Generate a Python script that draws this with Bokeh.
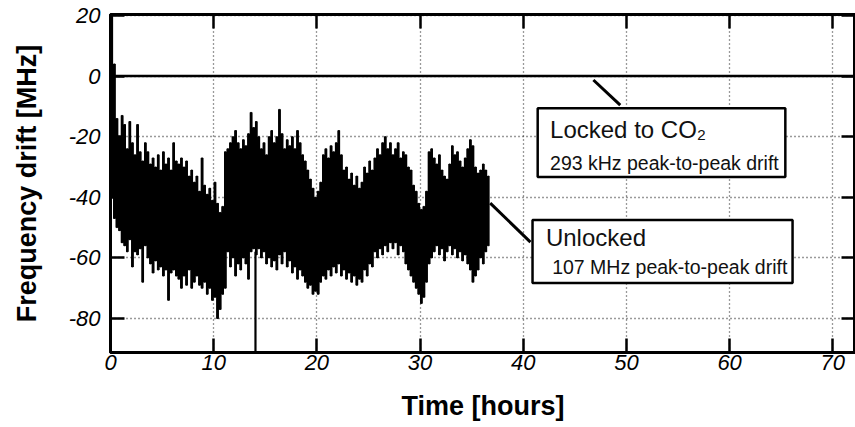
from bokeh.plotting import figure
from bokeh.models import (Range1d, FixedTicker, LinearAxis, BoxAnnotation, Label,
                          Arrow, ColumnDataSource)
from bokeh.embed import file_html
from bokeh.resources import INLINE

# ---------------- data ----------------
BIN_HOURS = 0.25  # sampling of the envelope readings

# upper envelope of the unlocked trace [MHz], one value per 0.25 h from t = 0
unlocked_top = [
    20, 4, -14, -20, -13, -16, -24, -15,
    -22, -26, -16, -25, -28, -22, -25, -29,
    -27, -30, -26, -31, -25, -29, -27, -31,
    -22, -28, -29, -27, -30, -28, -33, -31,
    -35, -33, -38, -27, -36, -39, -37, -41,
    -35, -42, -45, -43, -25, -24, -22, -20,
    -18, -22, -24, -21, -23, -19, -12, -17,
    -15, -20, -24, -22, -26, -20, -18, -22,
    -20, -11, -19, -24, -21, -23, -20, -24,
    -18, -22, -26, -28, -31, -34, -37, -40,
    -38, -35, -26, -24, -27, -23, -25, -22,
    -18, -26, -31, -30, -34, -32, -36, -33,
    -37, -35, -30, -32, -28, -31, -27, -24,
    -26, -22, -20, -24, -22, -26, -24, -22,
    -27, -25, -26, -30, -31, -36, -38, -42,
    -44, -43, -38, -25, -24, -27, -29, -26,
    -31, -33, -34, -29, -23, -26, -25, -28,
    -30, -27, -24, -21, -23, -30, -32, -31,
    -29, -31, -33,
]

# lower envelope of the unlocked trace [MHz]
unlocked_bottom = [
    -40, -47, -50, -51, -55, -56, -58, -54,
    -63, -58, -59, -57, -68, -56, -60, -62,
    -65, -61, -64, -63, -66, -64, -74, -65,
    -64, -66, -67, -70, -66, -69, -64, -70,
    -68, -66, -69, -70, -68, -72, -70, -74,
    -73, -80, -77, -72, -70, -58, -63, -60,
    -66, -62, -64, -60, -62, -67, -58, -57,
    -59, -57, -60, -58, -62, -60, -63, -61,
    -64, -59, -62, -58, -63, -61, -65, -63,
    -67, -64, -66, -68, -70, -69, -72, -71,
    -72, -68, -66, -67, -64, -66, -63, -65,
    -62, -66, -64, -67, -65, -68, -66, -69,
    -67, -68, -64, -66, -62, -63, -58, -60,
    -57, -59, -56, -58, -55, -57, -55, -59,
    -56, -58, -62, -64, -66, -68, -70, -72,
    -75, -73, -68, -62, -60, -58, -56, -59,
    -57, -61, -58, -56, -59, -57, -60, -58,
    -61, -59, -62, -64, -68, -66, -64, -60,
    -62, -58, -56,
]

unlocked_hours = [BIN_HOURS * (i + 0.5) for i in range(len(unlocked_top))]

# single dropout glitch of the unlocked trace
dropout_hours = [14.05]
dropout_high = [-58]
dropout_low = [-91]

# locked to CO2 (293 kHz p-p -> flat on this scale)
locked_hours = [0.0, 73.0]
locked_mhz = [0.0, 0.0]

x_ticks = [0, 10, 20, 30, 40, 50, 60, 70]
x_tick_labels = ["0", "10", "20", "30", "40", "50", "60", "70"]
y_ticks = [-80, -60, -40, -20, 0, 20]
y_tick_labels = ["-80", "-60", "-40", "-20", "0", "20"]

locked_title = "Locked to CO\u2082"
locked_note = "293 kHz peak-to-peak drift"
unlocked_title = "Unlocked"
unlocked_note = "107 MHz peak-to-peak drift"

# ---------------- figure ----------------
FONT = "Liberation Sans"

p = figure(width=855, height=427,
           x_range=Range1d(0, 72.2), y_range=Range1d(-91.2, 20.3),
           output_backend="svg", toolbar_location=None,
           min_border_left=110, min_border_right=0,
           min_border_top=14, min_border_bottom=75)
p.background_fill_color = "white"
p.border_fill_color = "white"
p.outline_line_color = "black"
p.outline_line_width = 3

xt = FixedTicker(ticks=x_ticks)
yt = FixedTicker(ticks=y_ticks)


def style_axis(ax, ticker, labels, show_labels):
    ax.ticker = ticker
    ax.axis_line_color = "black"
    ax.axis_line_width = 3
    ax.major_tick_in = 14
    ax.major_tick_out = 0
    ax.major_tick_line_width = 2.5
    ax.major_tick_line_color = "black"
    ax.minor_tick_line_color = None
    if show_labels:
        ax.major_label_overrides = dict(zip(ticker.ticks, labels))
        ax.major_label_text_font = FONT
        ax.major_label_text_font_style = "italic"
        ax.major_label_text_font_size = "22px"
        ax.major_label_text_color = "black"
    else:
        ax.major_label_overrides = {t: "" for t in ticker.ticks}
        ax.major_label_text_font_size = "0px"
        ax.major_label_standoff = 0


style_axis(p.xaxis[0], xt, x_tick_labels, True)
style_axis(p.yaxis[0], yt, y_tick_labels, True)
p.xaxis[0].major_label_standoff = 2
p.yaxis[0].major_label_standoff = 10

p.xaxis[0].axis_label = "Time [hours]"
p.yaxis[0].axis_label = "Frequency drift [MHz]"
for ax, st in ((p.xaxis[0], 18), (p.yaxis[0], 24)):
    ax.axis_label_text_font = FONT
    ax.axis_label_text_font_style = "bold"
    ax.axis_label_text_font_size = "27px"
    ax.axis_label_text_color = "black"
    ax.axis_label_standoff = st

top_ax = LinearAxis()
style_axis(top_ax, FixedTicker(ticks=x_ticks), x_tick_labels, False)
p.add_layout(top_ax, "above")
right_ax = LinearAxis()
style_axis(right_ax, FixedTicker(ticks=y_ticks), y_tick_labels, False)
p.add_layout(right_ax, "right")

p.xgrid.ticker = xt
p.ygrid.ticker = yt
for g in (p.xgrid, p.ygrid):
    g.grid_line_color = "#111111"
    g.grid_line_dash = "1 3"
    g.grid_line_width = 1.3
    g.grid_line_alpha = 0.85

# ---------------- data marks ----------------
src = ColumnDataSource(dict(h=unlocked_hours, top=unlocked_top, bottom=unlocked_bottom))
p.varea_step(x="h", y1="bottom", y2="top", step_mode="center", source=src,
             fill_color="black")
p.vbar(x="h", width=BIN_HOURS * 0.6, top="top", bottom="bottom", source=src,
       fill_color="black", line_color="black", line_width=0.8)
p.segment(x0=dropout_hours, y0=dropout_high, x1=dropout_hours, y1=dropout_low,
          line_color="black", line_width=2.2)
p.line(locked_hours, locked_mhz, line_color="black", line_width=2.4)

# ---------------- annotations ----------------
p.add_layout(Arrow(end=None, x_start=46.8, y_start=-1.3, x_end=49.4, y_end=-9.6,
                   line_color="black", line_width=3))
p.add_layout(Arrow(end=None, x_start=36.8, y_start=-41.9, x_end=40.7, y_end=-54.8,
                   line_color="black", line_width=3))

p.add_layout(BoxAnnotation(left=41.4, right=65.4, top=-10.6, bottom=-33.3,
                           fill_color="white", fill_alpha=1.0,
                           line_color="black", line_width=2.5, line_alpha=1.0))
p.add_layout(BoxAnnotation(left=40.9, right=66.1, top=-47.5, bottom=-68.3,
                           fill_color="white", fill_alpha=1.0,
                           line_color="black", line_width=2.5, line_alpha=1.0))

for txt, x, y, size in ((locked_title, 42.6, -17.5, "24px"),
                        (locked_note, 42.6, -28.7, "19.5px"),
                        (unlocked_title, 42.2, -53.4, "24px"),
                        (unlocked_note, 42.8, -63.0, "19.5px")):
    p.add_layout(Label(x=x, y=y, text=txt, text_font=FONT, text_font_size=size,
                       text_color="#111111", text_baseline="alphabetic",
                       text_align="left"))

open("out.html", "w").write(file_html(p, INLINE))
